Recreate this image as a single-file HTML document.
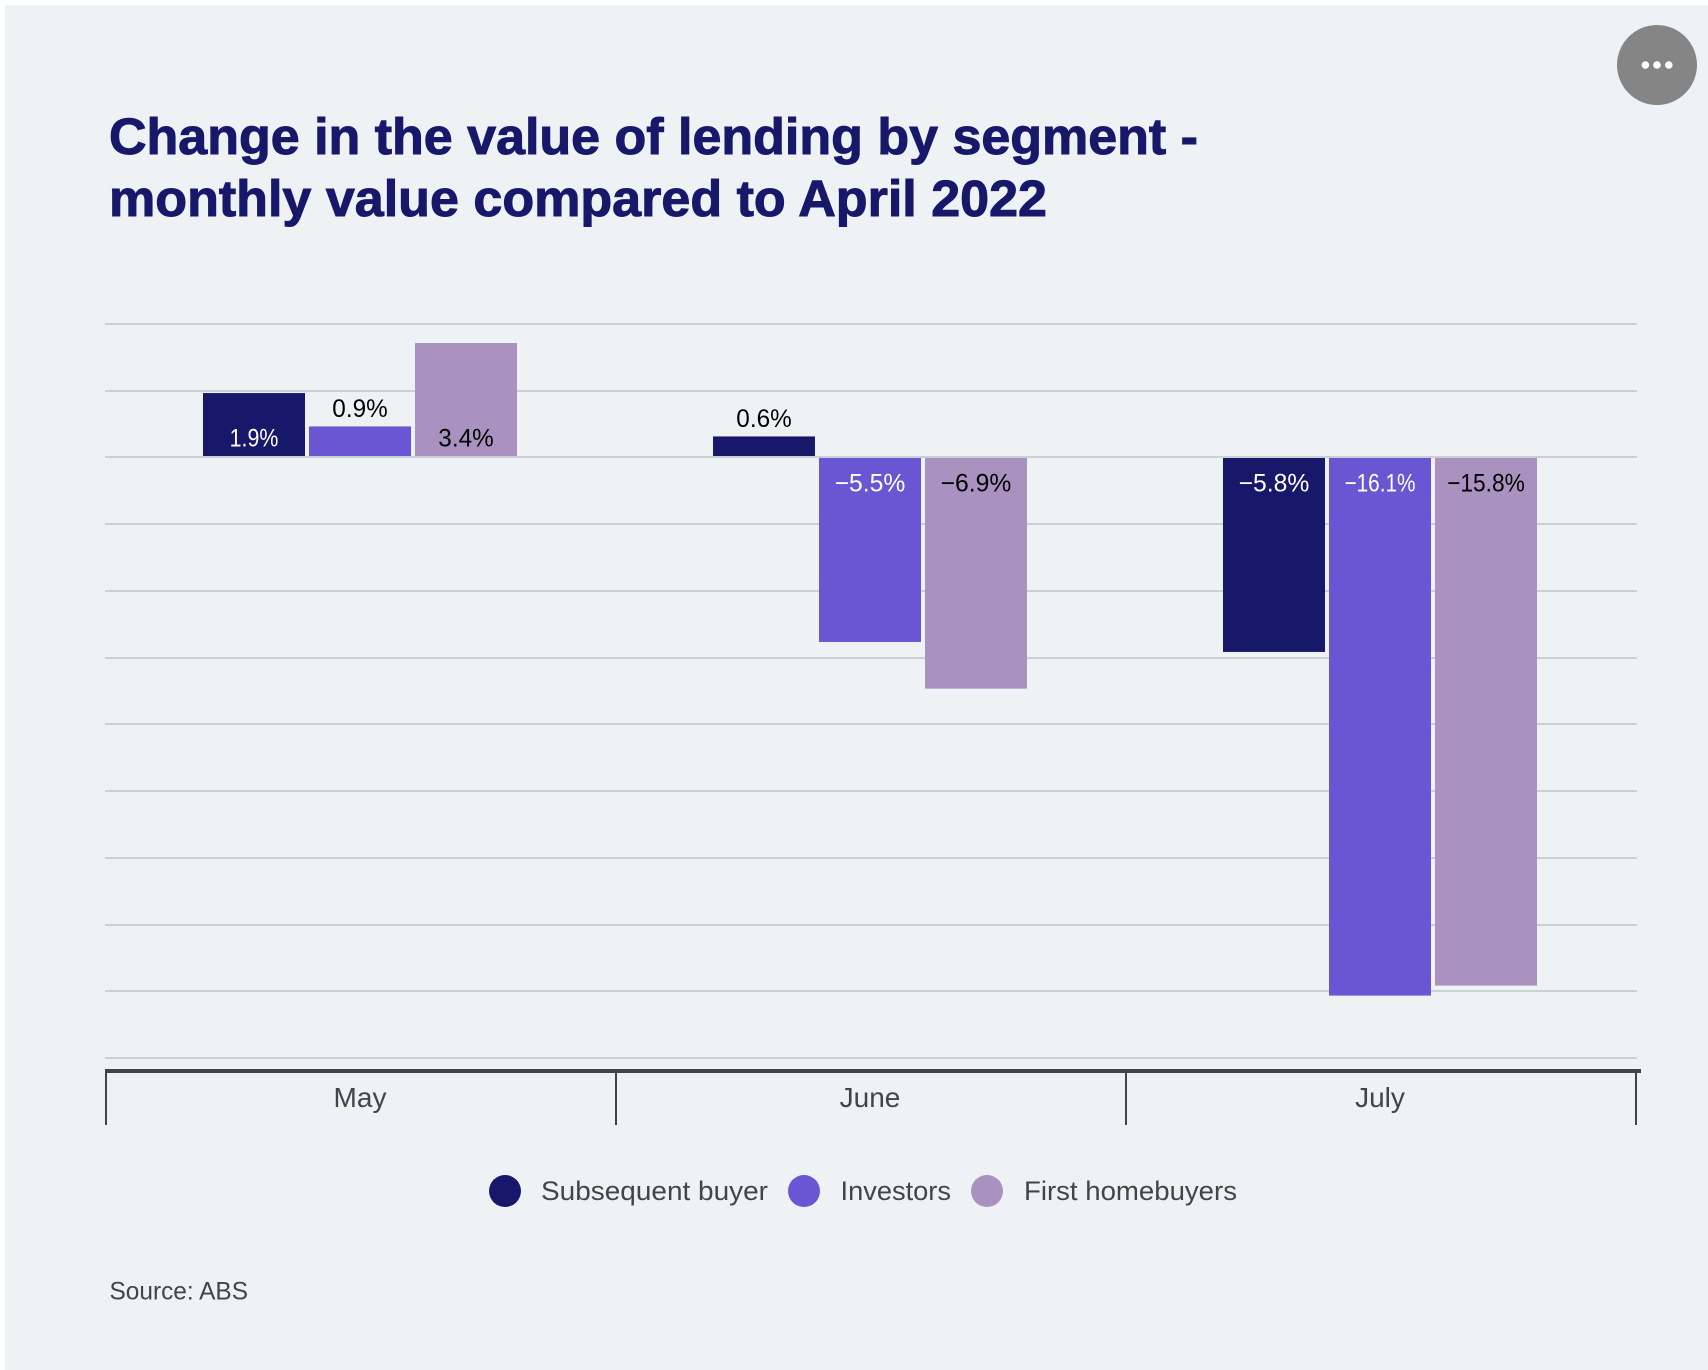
<!DOCTYPE html>
<html lang="en">
<head>
<meta charset="utf-8">
<title>Change in the value of lending by segment</title>
<style>
html,body{margin:0;padding:0;background:#fff;width:1708px;height:1370px;overflow:hidden}
svg{display:block}
text{font-family:"Liberation Sans",sans-serif}
</style>
</head>
<body>
<svg id="chart" xmlns="http://www.w3.org/2000/svg" width="1708" height="1370" viewBox="0 0 1708 1370">
  <rect x="5" y="5" width="1703" height="1365" fill="#EEF2F5"/>
  <g font-size="51" font-weight="700" fill="#18186B" stroke="#18186B" stroke-width="1">
    <text x="109" y="154" textLength="1089" lengthAdjust="spacingAndGlyphs" style="font-weight:700">Change in the value of lending by segment -</text>
    <text x="109" y="216" textLength="938" lengthAdjust="spacingAndGlyphs" style="font-weight:700">monthly value compared to April 2022</text>
  </g>
  <g>
    <circle cx="1657" cy="65" r="40" fill="#858585"/>
    <circle cx="1645.4" cy="65" r="3.8" fill="#fff"/>
    <circle cx="1657" cy="65" r="3.8" fill="#fff"/>
    <circle cx="1668.8" cy="65" r="3.8" fill="#fff"/>
  </g>
  <g id="gridlines"></g>
  <g id="bars"></g>
  <g id="labels"></g>
  <g id="xaxis"></g>
  <g font-size="27" fill="#444444">
    <g>
      <circle cx="505" cy="1191" r="16" fill="#18186B"/>
      <text x="541" y="1200" textLength="227" lengthAdjust="spacingAndGlyphs">Subsequent buyer</text>
    </g>
    <g>
      <circle cx="804" cy="1191" r="16" fill="#6A55D3"/>
      <text x="840.5" y="1200" textLength="110.5" lengthAdjust="spacingAndGlyphs">Investors</text>
    </g>
    <g>
      <circle cx="987" cy="1191" r="16" fill="#A992BF"/>
      <text x="1024" y="1200" textLength="213" lengthAdjust="spacingAndGlyphs">First homebuyers</text>
    </g>
  </g>
  <text x="109.5" y="1299.5" font-size="25" fill="#444444" textLength="138.5" lengthAdjust="spacingAndGlyphs">Source: ABS</text>
</svg>
<script>
const categories = ['May', 'June', 'July'];
const subsequentBuyer = [1.9, 0.6, -5.8];
const investors = [0.9, -5.5, -16.1];
const firstHomebuyers = [3.4, -6.9, -15.8];
const gridTicks = [4, 2, 0, -2, -4, -6, -8, -10, -12, -14, -16, -18];

const NS = 'http://www.w3.org/2000/svg';
const seriesList = [
  { key: 'subsequent-buyer', values: subsequentBuyer, fill: '#18186B', text: '#FFFFFF' },
  { key: 'investors', values: investors, fill: '#6A55D3', text: '#FFFFFF' },
  { key: 'first-homebuyers', values: firstHomebuyers, fill: '#A992BF', text: '#000000' }
];

const plotLeft = 105;
const bandWidth = 510;
const barWidth = 102;
const barStep = 106;
const yAtTop = 324;
const yAtBottom = 1058;

function yScale(v) {
  const top = gridTicks[0];
  const bottom = gridTicks[gridTicks.length - 1];
  return yAtTop + (top - v) / (top - bottom) * (yAtBottom - yAtTop);
}
function bandCenter(i) {
  return plotLeft + bandWidth * i + bandWidth / 2;
}
function make(tag, attrs, parent) {
  const el = document.createElementNS(NS, tag);
  for (const k in attrs) el.setAttribute(k, attrs[k]);
  parent.appendChild(el);
  return el;
}
function formatValue(v) {
  return (v < 0 ? '\u2212' : '') + Math.abs(v).toFixed(1) + '%';
}
function labelWidth(str) {
  let w = 0;
  for (const ch of str) {
    if (ch === '1') w += 7;
    else if (ch === '\u2212') w += 15.3;
    else if (ch === '.') w += 6.5;
    else if (ch === '%') w += 21.5;
    else w += 13.7;
  }
  return w;
}

const gridGroup = document.getElementById('gridlines');
gridTicks.forEach(function (t) {
  const line = make('rect', { x: plotLeft, y: Math.round(yScale(t)) - 1, width: 1532, height: 2, fill: '#CBD0D3' }, gridGroup);
  
  
});

const barGroup = document.getElementById('bars');
const labelGroup = document.getElementById('labels');
const zeroY = yScale(0);
categories.forEach(function (cat, c) {
  seriesList.forEach(function (s, si) {
    const v = s.values[c];
    const x = bandCenter(c) + (si - 1) * barStep - barWidth / 2;
    const pos = v >= 0;
    const top = pos ? yScale(v) - 1 : zeroY + 0.55;
    const bottom = pos ? zeroY - 1.45 : yScale(v) + 1;
    const bar = make('rect', { x: x, y: top, width: barWidth, height: Math.max(0, bottom - top), fill: s.fill }, barGroup);
    
    bar.setAttribute('data-series', s.key);
    

    const outside = Math.abs(v) < 1.5;
    let baseline;
    if (outside) baseline = pos ? top - 9.5 : bottom + 28;
    else baseline = pos ? zeroY - 11 : zeroY + 34;
    const text = formatValue(v);
    const label = make('text', {
      x: x + barWidth / 2,
      y: baseline,
      'text-anchor': 'middle',
      'font-size': 25,
      textLength: labelWidth(text),
      lengthAdjust: 'spacingAndGlyphs',
      fill: outside ? '#000000' : s.text
    }, labelGroup);
    
    
    label.textContent = text;
  });
});

const axisGroup = document.getElementById('xaxis');
const axisLine = make('rect', { x: plotLeft, y: 1069, width: 1536, height: 4, fill: '#444444' }, axisGroup);


for (let i = 0; i <= categories.length; i++) {
  const tick = make('rect', { x: plotLeft + bandWidth * i, y: 1073, width: 2, height: 52, fill: '#444444' }, axisGroup);
  
  
}
categories.forEach(function (cat, i) {
  const label = make('text', {
    x: bandCenter(i),
    y: 1107,
    'text-anchor': 'middle',
    'font-size': 28,
    fill: '#444444'
  }, axisGroup);
  
  
  label.textContent = cat;
});
</script>
</body>
</html>
